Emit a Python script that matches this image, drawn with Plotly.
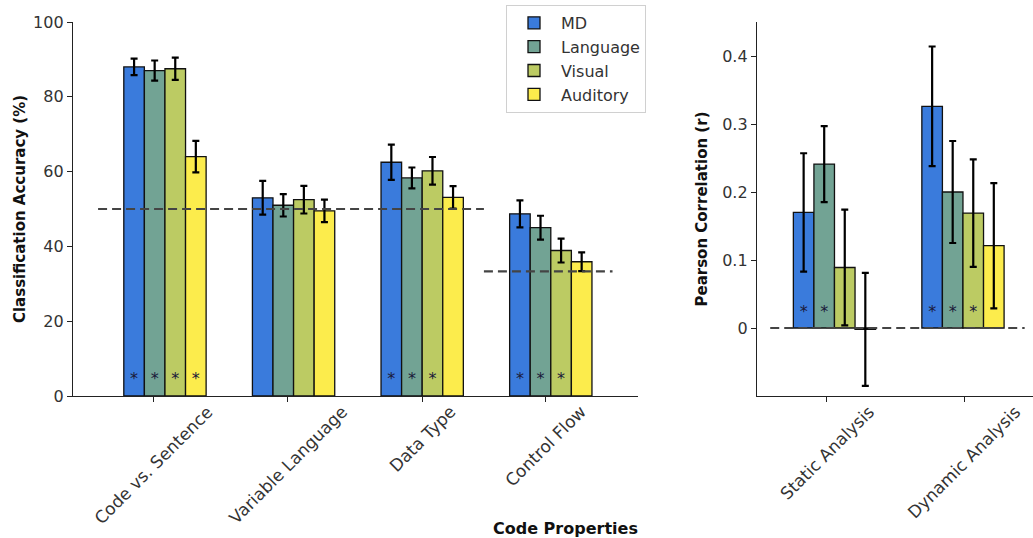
import plotly.graph_objects as go

# ---------------- data ----------------
series = ["MD", "Language", "Visual", "Auditory"]
colors = ["#3a7bdc", "#72a394", "#bccb63", "#fcec4c"]

left_cats = ["Code vs. Sentence", "Variable Language", "Data Type", "Control Flow"]
acc_md = [88.0, 53.0, 62.5, 48.7]
acc_lang = [87.0, 51.0, 58.3, 45.0]
acc_vis = [87.5, 52.5, 60.2, 38.9]
acc_aud = [64.0, 49.5, 53.1, 35.9]
acc_err_md = [2.2, 4.5, 4.7, 3.6]
acc_err_lang = [2.7, 3.0, 2.8, 3.2]
acc_err_vis = [3.0, 3.7, 3.7, 3.2]
acc_err_aud = [4.2, 3.0, 3.0, 2.5]
acc_sig_md = [True, False, True, True]
acc_sig_lang = [True, False, True, True]
acc_sig_vis = [True, False, True, True]
acc_sig_aud = [True, False, False, False]
chance_left = [50, 50, 50, 33.3]

right_cats = ["Static Analysis", "Dynamic Analysis"]
r_md = [0.17, 0.326]
r_lang = [0.241, 0.200]
r_vis = [0.089, 0.169]
r_aud = [-0.002, 0.121]
r_err_md = [0.087, 0.088]
r_err_lang = [0.056, 0.075]
r_err_vis = [0.085, 0.079]
r_err_aud = [0.083, 0.092]
r_sig_md = [True, True]
r_sig_lang = [True, True]
r_sig_vis = [False, True]
r_sig_aud = [False, False]

left_ticks_y = [0, 20, 40, 60, 80, 100]
right_ticks_y = [0, 0.1, 0.2, 0.3, 0.4]
right_ticktext = ["0", "0.1", "0.2", "0.3", "0.4"]

# ---------------- layout constants ----------------
W, H = 1033, 538
ML, MR, MT, MB = 73, 0, 22, 142
PLOT_W = W - ML - MR
PLOT_H = H - MT - MB
BAR_W = 0.16
offsets = [-1.5 * BAR_W, -0.5 * BAR_W, 0.5 * BAR_W, 1.5 * BAR_W]
left_tickpos = [-0.09, 0.955, 2.0, 2.96]
right_tickpos = [-0.06, 1.01]
FONT = "DejaVu Sans"
TXT = "#333333"

left_vals = [acc_md, acc_lang, acc_vis, acc_aud]
left_errs = [acc_err_md, acc_err_lang, acc_err_vis, acc_err_aud]
left_sig = [acc_sig_md, acc_sig_lang, acc_sig_vis, acc_sig_aud]
right_vals = [r_md, r_lang, r_vis, r_aud]
right_errs = [r_err_md, r_err_lang, r_err_vis, r_err_aud]
right_sig = [r_sig_md, r_sig_lang, r_sig_vis, r_sig_aud]

fig = go.Figure()

def add_panel(vals, errs, sigs, xa, ya, showlegend, star_y):
    for i, name in enumerate(series):
        xs = [g + offsets[i] for g in range(len(vals[i]))]
        fig.add_trace(go.Bar(
            x=xs, y=vals[i], width=BAR_W, name=name,
            marker=dict(color=colors[i], line=dict(color="#111111", width=1.3)),
            error_y=dict(type="data", array=errs[i], visible=True,
                         color="#000000", thickness=2.2, width=3.5),
            xaxis=xa, yaxis=ya, showlegend=showlegend, legendgroup=name,
        ))
    for i in range(len(series)):
        sx = [g + offsets[i] for g, s in enumerate(sigs[i]) if s]
        if sx:
            fig.add_trace(go.Scatter(
                x=sx, y=[star_y] * len(sx), mode="text", text=["*"] * len(sx),
                textfont=dict(size=16, color="#1a1a3a", family=FONT),
                textposition="middle center",
                xaxis=xa, yaxis=ya, showlegend=False, hoverinfo="skip",
            ))

add_panel(left_vals, left_errs, left_sig, "x", "y", True, 4.2)
add_panel(right_vals, right_errs, right_sig, "x2", "y2", False, 0.022)

# chance lines (left) merged across consecutive equal values
shift = -0.02
segs = []
start = 0
for g in range(1, len(chance_left) + 1):
    if g == len(chance_left) or chance_left[g] != chance_left[start]:
        segs.append((start - 0.5 + shift, g - 0.5 + shift, chance_left[start]))
        start = g
for x0, x1, cv in segs:
    fig.add_trace(go.Scatter(
        x=[x0, x1], y=[cv, cv], mode="lines",
        line=dict(color="#444444", width=2.2, dash="9px,5px"),
        xaxis="x", yaxis="y", showlegend=False, hoverinfo="skip",
    ))
# zero line (right)
fig.add_trace(go.Scatter(
    x=[-0.5, len(right_cats) - 0.52], y=[0, 0], mode="lines",
    line=dict(color="#444444", width=2.2, dash="9px,5px"),
    xaxis="x2", yaxis="y2", showlegend=False, hoverinfo="skip",
))

axis_common = dict(
    showgrid=False, zeroline=False, showline=True, linecolor="#222222", linewidth=1.3,
    ticks="outside", ticklen=5, tickwidth=1.2, tickcolor="#222222", automargin=False,
    tickfont=dict(size=16, color=TXT, family=FONT),
)

annotations = []
label_y = -3 / PLOT_H  # just below tick marks
for xa, pos, cats in (("x", left_tickpos, left_cats), ("x2", right_tickpos, right_cats)):
    for p, c in zip(pos, cats):
        annotations.append(dict(
            text=c, x=p, y=label_y, xref=xa, yref="paper", showarrow=False,
            textangle=-45, xanchor="center", yanchor="top",
            font=dict(size=17, color=TXT, family=FONT),
        ))
annotations.append(dict(
    text="<b>Code Properties</b>", x=(565 - ML) / PLOT_W, y=(PLOT_H + MT - 528) / PLOT_H,
    xref="paper", yref="paper", showarrow=False, xanchor="center", yanchor="middle",
    font=dict(size=16, color="#111111", family=FONT),
))

fig.update_layout(
    width=W, height=H,
    margin=dict(l=ML, r=MR, t=MT, b=MB, autoexpand=False),
    paper_bgcolor="white", plot_bgcolor="white",
    barmode="overlay",
    font=dict(family=FONT, color=TXT),
    xaxis=dict(domain=[0, 565 / PLOT_W], range=[-0.715, 3.678],
               tickvals=left_tickpos, showticklabels=False, **axis_common),
    yaxis=dict(range=[0, 100], tickvals=left_ticks_y,
               title=dict(text="<b>Classification Accuracy (%)</b>",
                          font=dict(size=15, color="#111111", family=FONT), standoff=3),
               **axis_common),
    xaxis2=dict(domain=[(757 - ML) / PLOT_W, 1.0], range=[-0.603, 1.545], anchor="y2",
                tickvals=right_tickpos, showticklabels=False, **axis_common),
    yaxis2=dict(range=[-0.1, 0.45], anchor="x2", tickvals=right_ticks_y,
                ticktext=right_ticktext,
                title=dict(text="<b>Pearson Correlation (r)</b>",
                           font=dict(size=15, color="#111111", family=FONT), standoff=10),
                **axis_common),
    legend=dict(x=(506 - ML) / PLOT_W, y=(PLOT_H + MT - 5) / PLOT_H,
                xanchor="left", yanchor="top", itemwidth=44,
                bgcolor="white", bordercolor="#d0d0d0", borderwidth=1,
                font=dict(size=16, color=TXT, family=FONT), tracegroupgap=0),
    annotations=annotations,
)

fig.write_html(
    "out.html",
    config={"displayModeBar": False},
    post_script="document.body.style.margin='0px';document.body.style.overflow='hidden';",
)
